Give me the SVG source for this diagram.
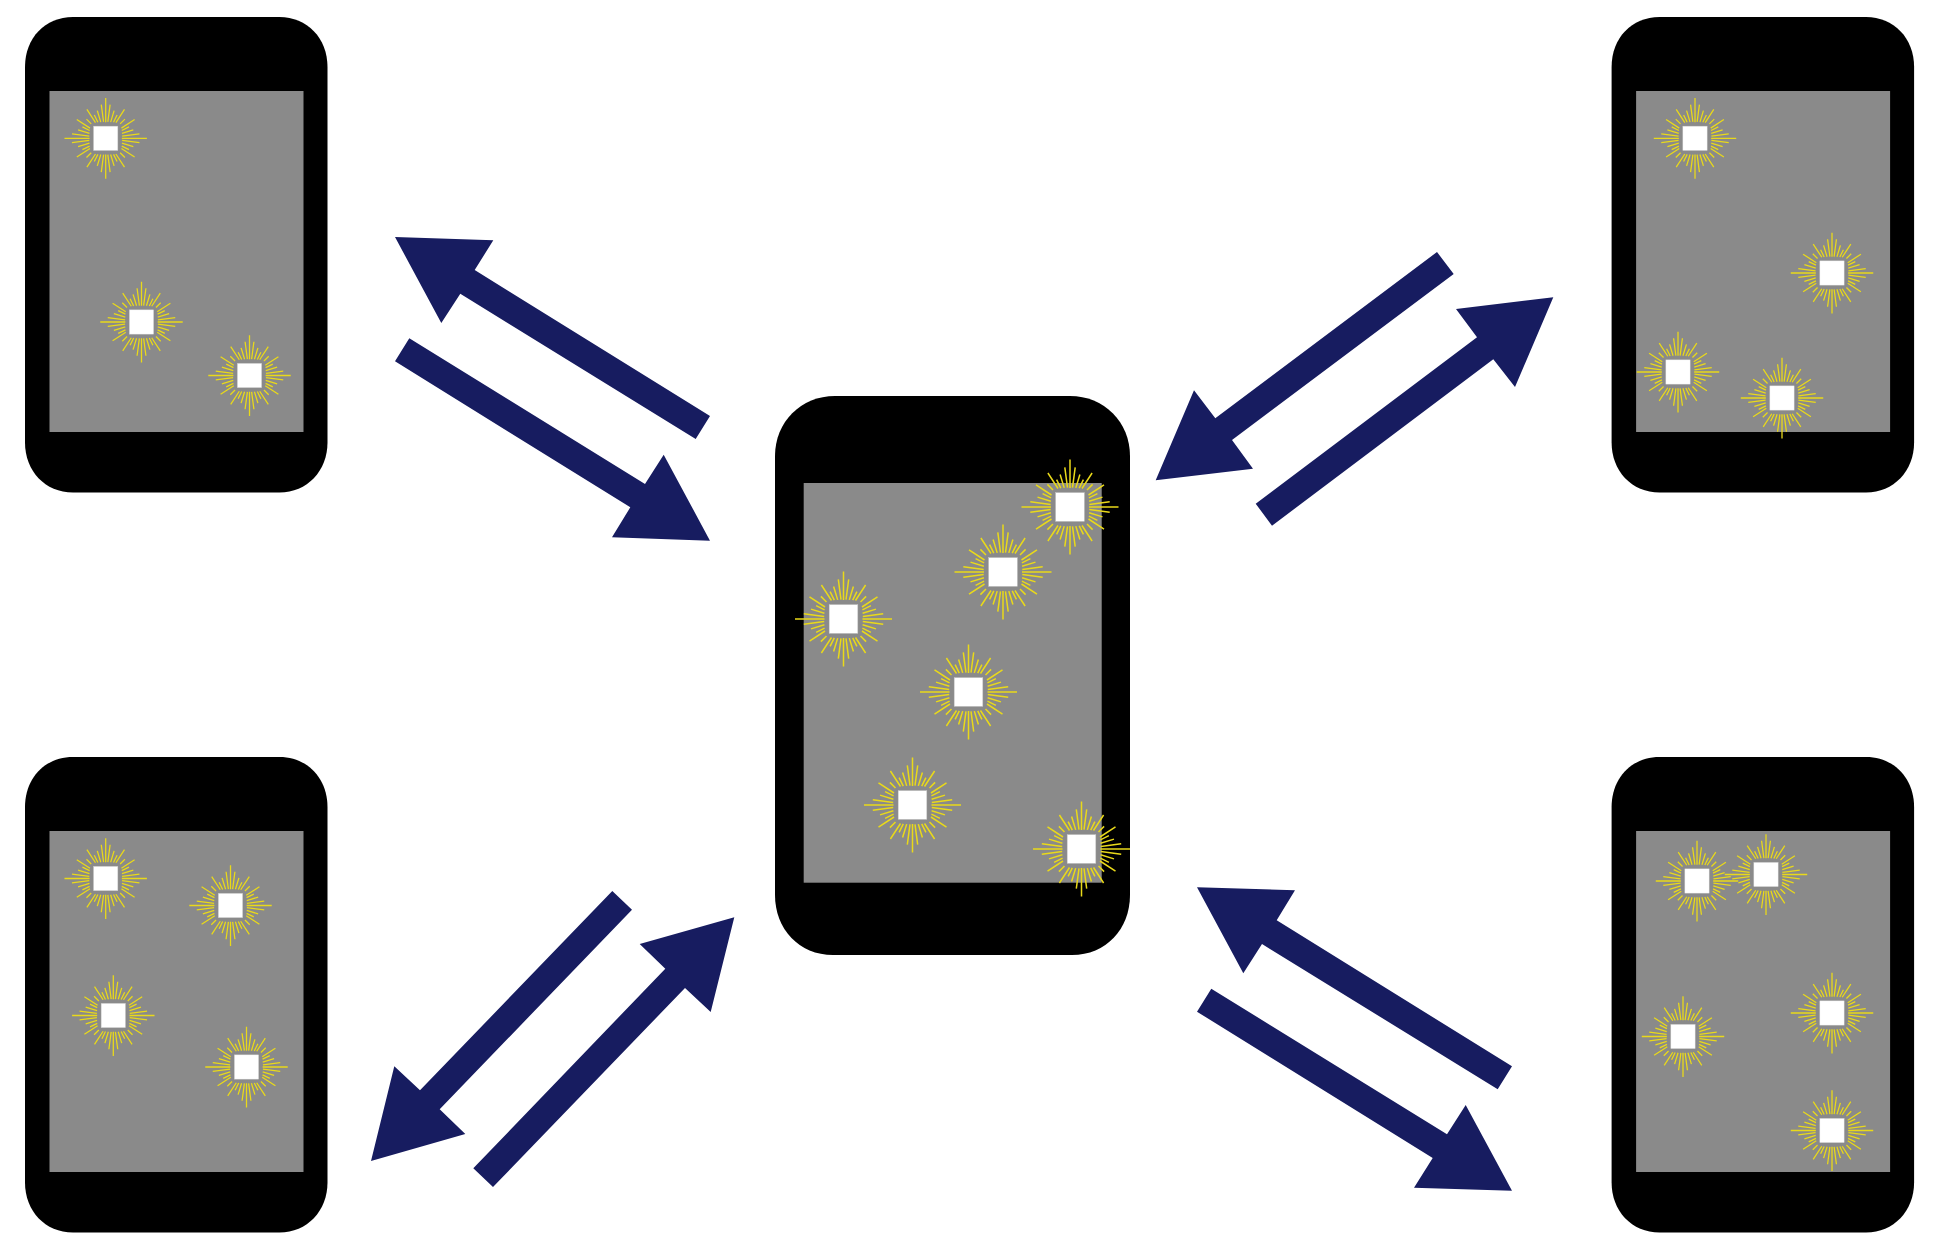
<svg xmlns="http://www.w3.org/2000/svg" xmlns:xlink="http://www.w3.org/1999/xlink" width="1937" height="1235" viewBox="0 0 1937 1235">
<style>
.body{fill:#000}
.screen{fill:#8a8a8a}
.ray{fill:none;stroke:#e9d91a;stroke-width:1.5}
.chip{fill:#fff;stroke:#c8c8c8;stroke-width:.5}
.arrow{fill:#171c60}
</style>
<defs>
<path id="q" class="ray" d="M2.5-19.3L5.2-39.7M5.8-19.1L9.9-32.5M9.2-18.9L13.4-27.4M12-18.5L22.1-34M17-17L22.6-22.6M18.5-12L34-22.1M18.9-9.2L27.4-13.4M19.1-5.8L32.5-9.9M19.3-2.5L39.7-5.2"/>
<g id="sun">
<use href="#q"/><use href="#q" transform="scale(-1,1)"/><use href="#q" transform="scale(1,-1)"/><use href="#q" transform="scale(-1,-1)"/>
<path class="ray" d="M0-19V-47.5M0 19V47.5M-19 0H-48.5M19 0H48.5"/>
<rect class="chip" x="-14.3" y="-14.3" width="28.6" height="28.6"/>
</g>
<g id="phone">
<path class="body" d="M73 17H279.5C307 17 327.5 38 327.5 67V442.5C327.5 471 307 492.5 279.5 492.5H73C45 492.5 25 471 25 442.5V67C25 38 45 17 73 17Z"/>
<rect class="screen" x="49.5" y="91" width="254" height="341"/>
</g>
</defs>
<g id="phone-top-left">
<use href="#phone"/>
<use href="#sun" transform="translate(105.7,138.3) scale(.85)"/>
<use href="#sun" transform="translate(141.5,322) scale(.85)"/>
<use href="#sun" transform="translate(249.5,375.5) scale(.85)"/>
</g>
<g id="phone-top-right">
<use href="#phone" x="1586.6"/>
<use href="#sun" transform="translate(1695,138.3) scale(.85)"/>
<use href="#sun" transform="translate(1832,273) scale(.85)"/>
<use href="#sun" transform="translate(1678,372) scale(.85)"/>
<use href="#sun" transform="translate(1782,398) scale(.85)"/>
</g>
<g id="phone-bottom-left">
<use href="#phone" y="740"/>
<use href="#sun" transform="translate(105.7,878.5) scale(.85)"/>
<use href="#sun" transform="translate(230.5,905.5) scale(.85)"/>
<use href="#sun" transform="translate(113.3,1015.5) scale(.85)"/>
<use href="#sun" transform="translate(246.5,1067) scale(.85)"/>
</g>
<g id="phone-bottom-right">
<use href="#phone" x="1586.6" y="740"/>
<use href="#sun" transform="translate(1697,881) scale(.85)"/>
<use href="#sun" transform="translate(1766,874.5) scale(.85)"/>
<use href="#sun" transform="translate(1832,1013) scale(.85)"/>
<use href="#sun" transform="translate(1683,1036.5) scale(.85)"/>
<use href="#sun" transform="translate(1832,1130.5) scale(.85)"/>
</g>
<g id="phone-center">
<path class="body" d="M835 396H1070C1104 396 1130 422 1130 456V895C1130 929 1106 955 1072 955H833C799 955 775 929 775 895V456C775 422 801 396 835 396Z"/>
<rect class="screen" x="803.7" y="483" width="298" height="399.7"/>
<use href="#sun" transform="translate(1070,507)"/>
<use href="#sun" transform="translate(1003,572)"/>
<use href="#sun" transform="translate(843.5,619)"/>
<use href="#sun" transform="translate(968.5,692)"/>
<use href="#sun" transform="translate(912.5,805)"/>
<use href="#sun" transform="translate(1081.5,849)"/>
</g>
<g id="connectors">
<polygon class="arrow" points="395,237 493.3,240.3 474.7,270 710,416 695.7,439 460.3,293.7 441.3,323"/>
<polygon class="arrow" points="409.3,338.3 645,484 663.7,454.7 710,540.7 612,537.3 630.3,507.3 395,361.3"/>
<polygon class="arrow" points="1437,252 1453.7,274 1232,440 1253,468.7 1155.7,480.3 1194,390.3 1215.3,418.3"/>
<polygon class="arrow" points="1255.7,503.7 1477,337.3 1456,309 1553.3,297.3 1515,387 1493.3,359.3 1272,525.7"/>
<polygon class="arrow" points="612.3,891 632,909.7 439.7,1109.3 465.3,1134 371,1161 394.3,1066.3 420,1090.3"/>
<polygon class="arrow" points="473.3,1168.3 665.3,968.7 639.7,944 734.3,917.3 710.7,1012 685,988 493,1187"/>
<polygon class="arrow" points="1197,887.3 1295,890.3 1276.7,920.3 1512,1066.3 1497.7,1089.3 1262,944 1243.3,973.3"/>
<polygon class="arrow" points="1211.3,988.7 1447,1134.3 1465.7,1105 1512,1190.7 1414,1187.7 1432.7,1158 1197,1011.7"/>
</g>
</svg>
